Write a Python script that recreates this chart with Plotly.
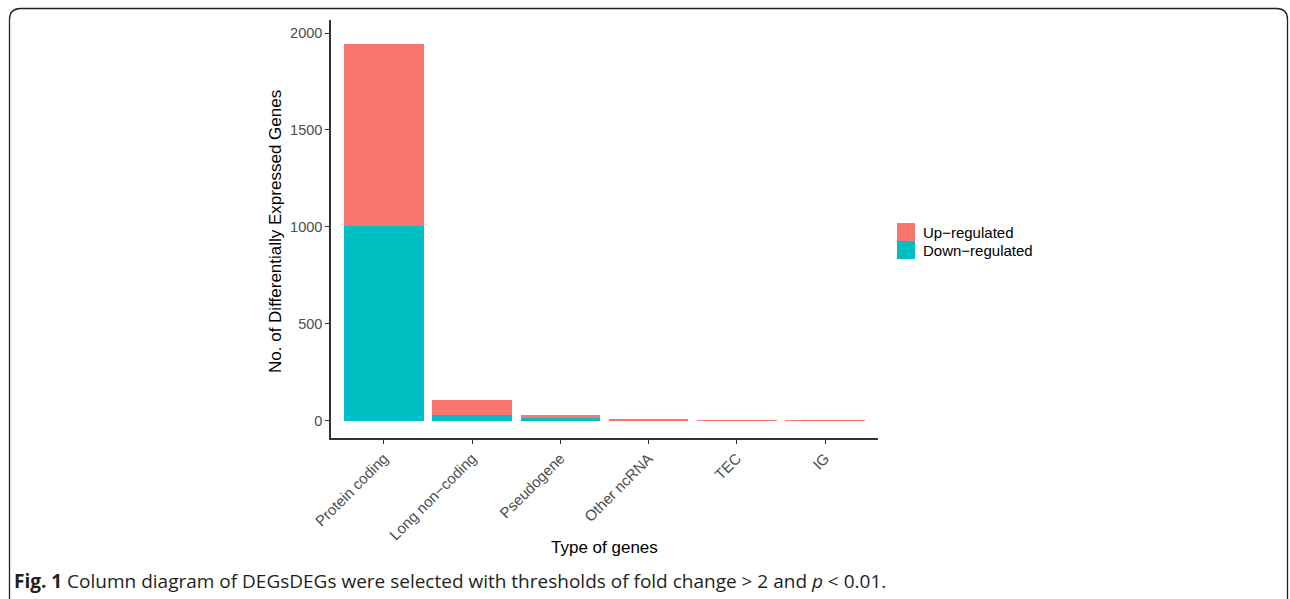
import plotly.graph_objects as go

# Gene categories and counts of differentially expressed genes
categories = ["Protein coding", "Long non\u2212coding", "Pseudogene", "Other ncRNA", "TEC", "IG"]
down_regulated = [1005, 33, 16, 3, 0, 0]
up_regulated = [940, 77, 15, 5, 2, 2]
y_ticks = [0, 500, 1000, 1500, 2000]
legend_labels = ["Up\u2212regulated", "Down\u2212regulated"]

W, H = 1290, 599
UP_COLOR = "#F8766D"
DOWN_COLOR = "#00BFC4"


def px(x):
    return x / W


def py(y):
    return 1 - y / H


fig = go.Figure()
fig.add_trace(go.Bar(x=categories, y=down_regulated, name=legend_labels[1],
                     marker=dict(color=DOWN_COLOR, line=dict(width=0)), width=0.9,
                     showlegend=False))
fig.add_trace(go.Bar(x=categories, y=up_regulated, name=legend_labels[0],
                     marker=dict(color=UP_COLOR, line=dict(width=0)), width=0.9,
                     showlegend=False))

# Rounded figure frame
x0, x1, y0, y1, r = 9.5, 1287.5, 8.5, 612, 11
frame = (
    f"M {px(x0)},{py(y0 + r)} Q {px(x0)},{py(y0)} {px(x0 + r)},{py(y0)} "
    f"L {px(x1 - r)},{py(y0)} Q {px(x1)},{py(y0)} {px(x1)},{py(y0 + r)} "
    f"L {px(x1)},{py(y1)} M {px(x0)},{py(y0 + r)} L {px(x0)},{py(y1)}"
)
shapes = [dict(type="path", path=frame, xref="paper", yref="paper",
               line=dict(color="#222222", width=1.3))]

# Legend keys: colour squares with labels beside them
annotations = []
for i, (label, color) in enumerate(zip(legend_labels, [UP_COLOR, DOWN_COLOR])):
    top = 223 + 18 * i
    shapes.append(dict(type="rect", xref="paper", yref="paper",
                       x0=px(897), x1=px(915), y0=py(top + 18), y1=py(top),
                       fillcolor=color, line=dict(width=0)))
    annotations.append(dict(x=px(921), y=py(top + 9.5), xref="paper", yref="paper",
                            xanchor="left", yanchor="middle", showarrow=False,
                            text=label, font=dict(size=15, color="black")))

# Axis titles
annotations.append(dict(x=px(604.5), y=py(547), xref="paper", yref="paper",
                        xanchor="center", yanchor="middle", showarrow=False,
                        text="Type of genes", font=dict(size=17, color="black")))
annotations.append(dict(x=px(275), y=py(232), xref="paper", yref="paper",
                        xanchor="center", yanchor="middle", showarrow=False, textangle=-90,
                        text="No. of Differentially Expressed Genes",
                        font=dict(size=17, color="black")))

annotations.append(dict(
    x=px(12), y=py(581), xref="paper", yref="paper",
    xanchor="left", yanchor="middle", showarrow=False,
    text="<b>Fig. 1</b> Column diagram of DEGsDEGs were selected with thresholds of fold change &gt; 2 and <i>p</i> &lt; 0.01.",
    font=dict(family="Open Sans, Noto Sans, sans-serif", size=19, color="#231F20"),
))

fig.update_layout(
    width=W, height=H, autosize=False,
    margin=dict(l=0, r=0, t=0, b=0),
    paper_bgcolor="white", plot_bgcolor="white",
    barmode="stack", bargap=0.1, showlegend=False,
    font=dict(family="Liberation Sans, Arial, sans-serif", size=14, color="black"),
    xaxis=dict(
        domain=[px(331), px(878)], range=[-0.6, 5.6], automargin=False,
        showline=True, linecolor="#333333", linewidth=1.5,
        ticks="outside", ticklen=4, tickcolor="#333333", tickwidth=1,
        tickangle=-45, tickfont=dict(size=15, color="#4D4D4D"),
        showgrid=False, zeroline=False,
    ),
    yaxis=dict(
        domain=[py(438), py(20)], range=[-88, 2067], automargin=False,
        tickvals=y_ticks, ticktext=[str(v) for v in y_ticks],
        showline=True, linecolor="#333333", linewidth=1.5,
        ticks="outside", ticklen=4, tickcolor="#333333", tickwidth=1,
        tickfont=dict(size=14.5, color="#4D4D4D"),
        showgrid=False, zeroline=False,
    ),
    shapes=shapes,
    annotations=annotations,
)

fig.write_html("out.html")
